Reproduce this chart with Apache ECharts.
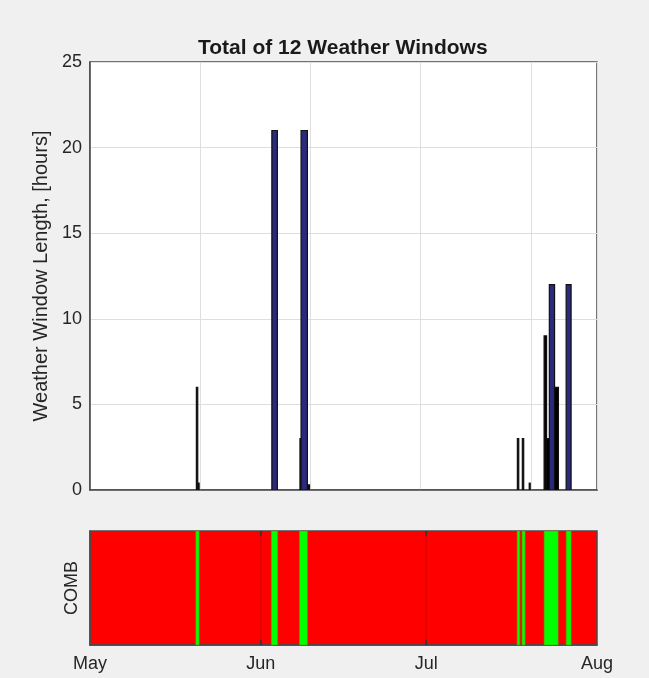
<!DOCTYPE html>
<html><head><meta charset="utf-8">
<script src="https://cdn.jsdelivr.net/npm/echarts@6/dist/echarts.min.js"></script>
<style>html,body{margin:0;padding:0;background:#f0f0f0;}#c{width:649px;height:678px;}</style>
</head><body><div id="c"></div>
<script>
// Days counted from 1 May
var winStart = [19.3, 19.55, 33.0, 38.1, 38.3, 39.65, 77.55, 78.45, 79.7, 82.4, 82.75, 83.35, 84.3, 86.4];
var winEnd   = [19.55, 19.8, 34.0, 38.3, 39.45, 39.8, 77.8, 78.7, 79.85, 82.85, 83.4, 84.3, 85.0, 87.3];
var winHours = [6, 0.4, 21, 3, 21, 0.3, 3, 3, 0.4, 9, 3, 12, 6, 12];
var combStart = [19.2, 32.9, 38.0, 77.5, 78.4, 82.4, 86.4];
var combEnd   = [19.8, 34.05, 39.45, 78.0, 78.95, 84.95, 87.3];
var monthTickDays = [0, 31, 61, 92];
var monthTickLabels = ['May', 'Jun', 'Jul', 'Aug'];
var titleText = 'Total of 12 Weather Windows';

var FONT = "'Liberation Sans', Arial, Helvetica, sans-serif";
var AX = '#4a4a4a';
var barData = winStart.map(function (s, i) { return [s, winEnd[i], winHours[i]]; });
var combData = combStart.map(function (s, i) { return [s, combEnd[i]]; });
var gridData = monthTickDays.slice(1, monthTickDays.length - 1).map(function (d) { return [d]; });

var chart = echarts.init(document.getElementById('c'), null, {renderer: 'canvas'});
chart.setOption({
  backgroundColor: '#f0f0f0',
  animation: false,
  title: {text: titleText, left: 193, top: 33,
    textStyle: {fontFamily: FONT, fontSize: 21, fontWeight: 'bold', color: '#1a1a1a'}},
  grid: [
    {left: 90, right: 52, top: 62, height: 428, show: true, backgroundColor: '#ffffff', borderColor: AX, borderWidth: 1.5},
    {left: 90, right: 52, top: 531, height: 114, show: true, backgroundColor: '#ff0000', borderColor: AX, borderWidth: 1.5}
  ],
  xAxis: [
    {gridIndex: 0, type: 'value', min: 0, max: 92, interval: 20, position: 'bottom',
      axisLine: {show: true, lineStyle: {color: AX, width: 1.5}}, axisTick: {show: false},
      axisLabel: {show: false}, splitLine: {show: true, lineStyle: {color: '#dedede'}}},
    {gridIndex: 1, type: 'value', min: 0, max: 92, position: 'bottom',
      axisLine: {show: true, lineStyle: {color: AX, width: 1.5}},
      axisTick: {show: false},
      axisLabel: {show: true, customValues: monthTickDays, margin: 10, fontFamily: FONT, fontSize: 18, color: '#262626',
        formatter: function (v) { var i = monthTickDays.indexOf(v); return i >= 0 ? monthTickLabels[i] : ''; }},
      splitLine: {show: false}}
  ],
  yAxis: [
    {gridIndex: 0, type: 'value', min: 0, max: 25, interval: 5, position: 'left',
      name: 'Weather Window Length, [hours]', nameLocation: 'middle', nameGap: 32,
      nameTextStyle: {fontFamily: FONT, fontSize: 20, color: '#262626'},
      axisLine: {show: true, lineStyle: {color: AX, width: 1.5}}, axisTick: {show: false},
      axisLabel: {fontFamily: FONT, fontSize: 18, color: '#262626', margin: 8},
      splitLine: {show: true, lineStyle: {color: '#dedede'}}},
    {gridIndex: 1, type: 'value', min: 0, max: 1, position: 'left',
      name: 'COMB', nameLocation: 'middle', nameGap: 9,
      nameTextStyle: {fontFamily: FONT, fontSize: 18, color: '#262626'},
      axisLine: {show: true, lineStyle: {color: AX, width: 1.5}}, axisTick: {show: false}, axisLabel: {show: false}, splitLine: {show: false}}
  ],
  series: [
    {type: 'custom', xAxisIndex: 0, yAxisIndex: 0, data: barData, clip: true,
      renderItem: function (params, api) {
        var p0 = api.coord([api.value(0), api.value(2)]);
        var p1 = api.coord([api.value(1), 0]);
        var w = Math.max(p1[0] - p0[0], 1);
        return {type: 'rect', shape: {x: p0[0], y: p0[1], width: w, height: p1[1] - p0[1]},
          style: {fill: w < 4.6 ? '#000000' : '#2b2a7c', stroke: '#111111', lineWidth: 1.2}};
      }},
    {type: 'custom', xAxisIndex: 1, yAxisIndex: 1, data: gridData, silent: true,
      renderItem: function (params, api) {
        var a = api.coord([api.value(0), 0]);
        var b = api.coord([api.value(0), 1]);
        return {type: 'group', children: [
          {type: 'line', shape: {x1: a[0], y1: a[1], x2: b[0], y2: b[1]}, style: {stroke: 'rgba(0,0,0,0.15)', lineWidth: 1}},
          {type: 'line', shape: {x1: a[0], y1: a[1], x2: a[0], y2: a[1] - 5}, style: {stroke: '#333', lineWidth: 1.5}},
          {type: 'line', shape: {x1: b[0], y1: b[1], x2: b[0], y2: b[1] + 5}, style: {stroke: '#333', lineWidth: 1.5}}
        ]};
      }},
    {type: 'custom', xAxisIndex: 1, yAxisIndex: 1, data: combData,
      renderItem: function (params, api) {
        var a = api.coord([api.value(0), 1]);
        var b = api.coord([api.value(1), 0]);
        return {type: 'rect', shape: {x: a[0], y: a[1], width: Math.max(b[0] - a[0], 1), height: b[1] - a[1]},
          style: {fill: '#00ff00', stroke: 'rgba(120,140,0,0.6)', lineWidth: 1}};
      }}
  ]
});
</script></body></html>
